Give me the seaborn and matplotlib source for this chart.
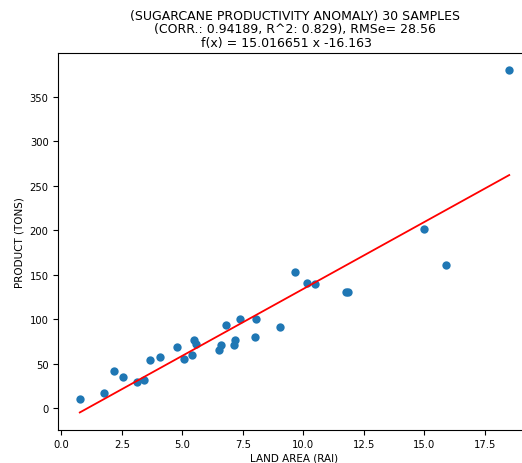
import matplotlib
matplotlib.use("Agg")
import matplotlib.pyplot as plt
import seaborn as sns
import numpy as np
import pandas as pd

land_area = [0.76, 1.76, 2.17, 2.55, 3.12, 3.43, 3.65, 4.06, 4.78, 5.09,
             5.40, 5.48, 5.55, 6.52, 6.60, 6.79, 7.13, 7.16, 7.40, 8.02,
             8.06, 9.05, 9.65, 10.15, 10.47, 11.78, 11.86, 14.98, 15.89, 18.52]
product = [10.5, 17, 42, 35, 30, 32, 54, 57, 68.5, 55,
           60, 77, 72, 65, 70.5, 93, 70.5, 77, 100, 80.5,
           100.5, 91, 153, 141, 139, 131, 131, 201, 161, 380]
slope = 15.016651
intercept = -16.163
title_text = ("(SUGARCANE PRODUCTIVITY ANOMALY) 30 SAMPLES\n"
              "(CORR.: 0.94189, R^2: 0.829), RMSe= 28.56\n"
              "f(x) = 15.016651 x -16.163    ")

df = pd.DataFrame({"x": land_area, "y": product})
xl = np.array([min(land_area), max(land_area)])
line_df = pd.DataFrame({"x": xl, "y": slope * xl + intercept})

fig = plt.figure(figsize=(5.22, 4.64), dpi=100)
ax = fig.add_axes([0.1117, 0.072, 0.905, 0.812])
sns.scatterplot(data=df, x="x", y="y", ax=ax, color="#1f77b4", s=36, linewidth=0)
sns.lineplot(data=line_df, x="x", y="y", ax=ax, color="red", linewidth=1.3)
ax.set_xlabel("LAND AREA (RAI)", fontsize=7.5, labelpad=2)
ax.set_ylabel("PRODUCT (TONS)", fontsize=7.5)
ax.set_title(title_text, fontsize=9, linespacing=1.05, pad=5)
ax.tick_params(labelsize=7.2)
fig.savefig("out.png", dpi=100)
